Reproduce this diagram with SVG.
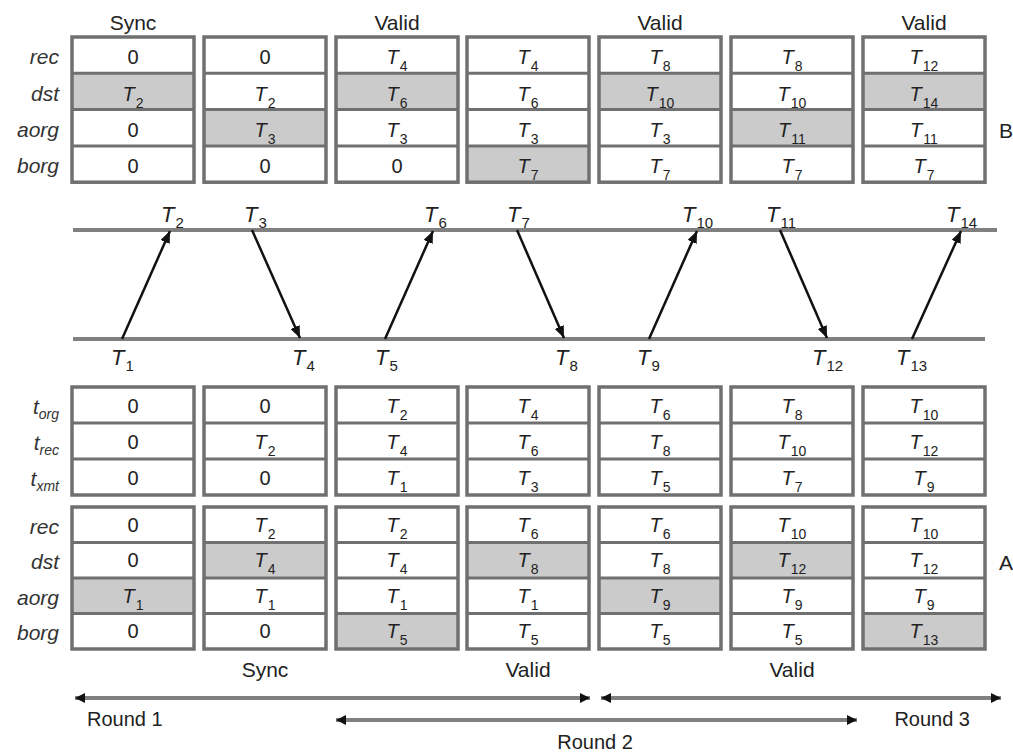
<svg xmlns="http://www.w3.org/2000/svg" xmlns:xlink="http://www.w3.org/1999/xlink" width="1013" height="752" viewBox="0 0 1013 752">
  <style>
    text { font-family: "Liberation Sans", Arial, sans-serif; fill: #222; }
    .hd { font-size: 21px; text-anchor: middle; }
    .lb { font-size: 21px; font-style: italic; text-anchor: end; fill: #333; }
    .v { font-size: 20px; text-anchor: middle; }
    .it { font-style: italic; }
    .sb { font-size: 14px; font-style: normal; }
    .tl { font-size: 22px; font-style: italic; }
    .tls { font-size: 15px; font-style: normal; }
    .rd { font-size: 20px; }
    .sh { fill: #cbcbcb; }
    .frame { fill: none; stroke: #707070; stroke-width: 3.5; }
    .dv { stroke: #707070; stroke-width: 3; }
    .axis { stroke: #808080; stroke-width: 4; fill: none; }
    .msg { stroke: #111; stroke-width: 2.5; fill: none; marker-end: url(#ah); }
    .span { stroke: #808080; stroke-width: 4; fill: none; marker-start: url(#sh2); marker-end: url(#sh2); }
  </style>
  <defs>
    <marker id="ah" viewBox="0 0 12 10" refX="12" refY="5" markerWidth="12" markerHeight="10" markerUnits="userSpaceOnUse" orient="auto">
      <path d="M0,0 L12,5 L0,10 z" fill="#111"/>
    </marker>
    <marker id="sh2" viewBox="0 0 10 10" refX="10" refY="5" markerWidth="10" markerHeight="10" markerUnits="userSpaceOnUse" orient="auto-start-reverse">
      <path d="M0,0 L10,5 L0,10 z" fill="#111"/>
    </marker>
    <!-- four-row register box (node B) -->
    <g id="frameB">
      <line class="dv" x1="0" y1="36.3" x2="122" y2="36.3"/>
      <line class="dv" x1="0" y1="72.6" x2="122" y2="72.6"/>
      <line class="dv" x1="0" y1="108.9" x2="122" y2="108.9"/>
      <rect class="frame" x="0" y="0" width="122" height="145.2"/>
    </g>
    <!-- three-row packet header box -->
    <g id="frameP">
      <line class="dv" x1="0" y1="36" x2="122" y2="36"/>
      <line class="dv" x1="0" y1="72" x2="122" y2="72"/>
      <rect class="frame" x="0" y="0" width="122" height="108"/>
    </g>
    <!-- four-row register box (node A) -->
    <g id="frameA">
      <line class="dv" x1="0" y1="35.5" x2="122" y2="35.5"/>
      <line class="dv" x1="0" y1="71" x2="122" y2="71"/>
      <line class="dv" x1="0" y1="106.5" x2="122" y2="106.5"/>
      <rect class="frame" x="0" y="0" width="122" height="142"/>
    </g>
  </defs>

  <rect width="1013" height="752" fill="#fff"/>

  <!-- state labels above node B -->
  <text class="hd" x="133" y="30">Sync</text>
  <text class="hd" x="397" y="30">Valid</text>
  <text class="hd" x="660" y="30">Valid</text>
  <text class="hd" x="924" y="30">Valid</text>

  <!-- row labels, node B -->
  <g id="labelsB">
    <text class="lb" x="59" y="64">rec</text>
    <text class="lb" x="59" y="101">dst</text>
    <text class="lb" x="59" y="137">aorg</text>
    <text class="lb" x="59" y="173">borg</text>
  </g>
  <text x="999" y="138" style="font-size:21px">B</text>

  <!-- node B register states -->
  <g id="b1" transform="translate(72,37)">
    <rect class="sh" x="0" y="36.3" width="122" height="36.3"/>
    <use xlink:href="#frameB"/>
    <text class="v" x="61" y="27">0</text>
    <text class="v" x="61" y="64"><tspan class="it">T</tspan><tspan class="sb" dx="1" dy="7">2</tspan></text>
    <text class="v" x="61" y="100">0</text>
    <text class="v" x="61" y="136">0</text>
  </g>
  <g id="b2" transform="translate(204,37)">
    <rect class="sh" x="0" y="72.6" width="122" height="36.3"/>
    <use xlink:href="#frameB"/>
    <text class="v" x="61" y="27">0</text>
    <text class="v" x="61" y="64"><tspan class="it">T</tspan><tspan class="sb" dx="1" dy="7">2</tspan></text>
    <text class="v" x="61" y="100"><tspan class="it">T</tspan><tspan class="sb" dx="1" dy="7">3</tspan></text>
    <text class="v" x="61" y="136">0</text>
  </g>
  <g id="b3" transform="translate(336,37)">
    <rect class="sh" x="0" y="36.3" width="122" height="36.3"/>
    <use xlink:href="#frameB"/>
    <text class="v" x="61" y="27"><tspan class="it">T</tspan><tspan class="sb" dx="1" dy="7">4</tspan></text>
    <text class="v" x="61" y="64"><tspan class="it">T</tspan><tspan class="sb" dx="1" dy="7">6</tspan></text>
    <text class="v" x="61" y="100"><tspan class="it">T</tspan><tspan class="sb" dx="1" dy="7">3</tspan></text>
    <text class="v" x="61" y="136">0</text>
  </g>
  <g id="b4" transform="translate(467,37)">
    <rect class="sh" x="0" y="108.9" width="122" height="36.3"/>
    <use xlink:href="#frameB"/>
    <text class="v" x="61" y="27"><tspan class="it">T</tspan><tspan class="sb" dx="1" dy="7">4</tspan></text>
    <text class="v" x="61" y="64"><tspan class="it">T</tspan><tspan class="sb" dx="1" dy="7">6</tspan></text>
    <text class="v" x="61" y="100"><tspan class="it">T</tspan><tspan class="sb" dx="1" dy="7">3</tspan></text>
    <text class="v" x="61" y="136"><tspan class="it">T</tspan><tspan class="sb" dx="1" dy="7">7</tspan></text>
  </g>
  <g id="b5" transform="translate(599,37)">
    <rect class="sh" x="0" y="36.3" width="122" height="36.3"/>
    <use xlink:href="#frameB"/>
    <text class="v" x="61" y="27"><tspan class="it">T</tspan><tspan class="sb" dx="1" dy="7">8</tspan></text>
    <text class="v" x="61" y="64"><tspan class="it">T</tspan><tspan class="sb" dx="1" dy="7">10</tspan></text>
    <text class="v" x="61" y="100"><tspan class="it">T</tspan><tspan class="sb" dx="1" dy="7">3</tspan></text>
    <text class="v" x="61" y="136"><tspan class="it">T</tspan><tspan class="sb" dx="1" dy="7">7</tspan></text>
  </g>
  <g id="b6" transform="translate(731,37)">
    <rect class="sh" x="0" y="72.6" width="122" height="36.3"/>
    <use xlink:href="#frameB"/>
    <text class="v" x="61" y="27"><tspan class="it">T</tspan><tspan class="sb" dx="1" dy="7">8</tspan></text>
    <text class="v" x="61" y="64"><tspan class="it">T</tspan><tspan class="sb" dx="1" dy="7">10</tspan></text>
    <text class="v" x="61" y="100"><tspan class="it">T</tspan><tspan class="sb" dx="1" dy="7">11</tspan></text>
    <text class="v" x="61" y="136"><tspan class="it">T</tspan><tspan class="sb" dx="1" dy="7">7</tspan></text>
  </g>
  <g id="b7" transform="translate(863,37)">
    <rect class="sh" x="0" y="36.3" width="122" height="36.3"/>
    <use xlink:href="#frameB"/>
    <text class="v" x="61" y="27"><tspan class="it">T</tspan><tspan class="sb" dx="1" dy="7">12</tspan></text>
    <text class="v" x="61" y="64"><tspan class="it">T</tspan><tspan class="sb" dx="1" dy="7">14</tspan></text>
    <text class="v" x="61" y="100"><tspan class="it">T</tspan><tspan class="sb" dx="1" dy="7">11</tspan></text>
    <text class="v" x="61" y="136"><tspan class="it">T</tspan><tspan class="sb" dx="1" dy="7">7</tspan></text>
  </g>

  <!-- time axes of B (top) and A (bottom) -->
  <g id="axes">
    <line class="axis" x1="73" y1="230" x2="997" y2="230"/>
    <line class="axis" x1="73" y1="339" x2="985" y2="339"/>
  </g>

  <!-- packet exchanges -->
  <g id="connectors">
    <line class="msg" x1="122" y1="339" x2="170" y2="231"/>
    <line class="msg" x1="252" y1="230" x2="300" y2="338"/>
    <line class="msg" x1="385" y1="339" x2="433" y2="231"/>
    <line class="msg" x1="517" y1="230" x2="564" y2="338"/>
    <line class="msg" x1="649" y1="339" x2="697" y2="231"/>
    <line class="msg" x1="780" y1="230" x2="827" y2="338"/>
    <line class="msg" x1="912" y1="339" x2="961" y2="231"/>
  </g>

  <!-- timestamps on the axes -->
  <g id="stamps">
    <text class="tl" x="161" y="222">T<tspan class="tls" dx="1" dy="6">2</tspan></text>
    <text class="tl" x="244" y="222">T<tspan class="tls" dx="1" dy="6">3</tspan></text>
    <text class="tl" x="424" y="222">T<tspan class="tls" dx="1" dy="6">6</tspan></text>
    <text class="tl" x="507" y="222">T<tspan class="tls" dx="1" dy="6">7</tspan></text>
    <text class="tl" x="682" y="222">T<tspan class="tls" dx="1" dy="6">10</tspan></text>
    <text class="tl" x="766" y="222">T<tspan class="tls" dx="1" dy="6">11</tspan></text>
    <text class="tl" x="946" y="222">T<tspan class="tls" dx="1" dy="6">14</tspan></text>
    <text class="tl" x="111" y="365">T<tspan class="tls" dx="1" dy="6">1</tspan></text>
    <text class="tl" x="292" y="365">T<tspan class="tls" dx="1" dy="6">4</tspan></text>
    <text class="tl" x="375" y="365">T<tspan class="tls" dx="1" dy="6">5</tspan></text>
    <text class="tl" x="555" y="365">T<tspan class="tls" dx="1" dy="6">8</tspan></text>
    <text class="tl" x="637" y="365">T<tspan class="tls" dx="1" dy="6">9</tspan></text>
    <text class="tl" x="812" y="365">T<tspan class="tls" dx="1" dy="6">12</tspan></text>
    <text class="tl" x="896" y="365">T<tspan class="tls" dx="1" dy="6">13</tspan></text>
  </g>

  <!-- row labels, packet header and node A -->
  <g id="labelsA">
    <text class="lb" x="59" y="414">t<tspan class="sb" style="font-style:italic" dy="5">org</tspan></text>
    <text class="lb" x="59" y="450">t<tspan class="sb" style="font-style:italic" dy="5">rec</tspan></text>
    <text class="lb" x="59" y="486">t<tspan class="sb" style="font-style:italic" dy="5">xmt</tspan></text>
    <text class="lb" x="59" y="534">rec</text>
    <text class="lb" x="59" y="569">dst</text>
    <text class="lb" x="59" y="605">aorg</text>
    <text class="lb" x="59" y="640">borg</text>
  </g>
  <text x="999" y="570" style="font-size:21px">A</text>

  <!-- packet header contents -->
  <g id="p1" transform="translate(72,387)">
    <use xlink:href="#frameP"/>
    <text class="v" x="61" y="26">0</text>
    <text class="v" x="61" y="62">0</text>
    <text class="v" x="61" y="98">0</text>
  </g>
  <g id="p2" transform="translate(204,387)">
    <use xlink:href="#frameP"/>
    <text class="v" x="61" y="26">0</text>
    <text class="v" x="61" y="62"><tspan class="it">T</tspan><tspan class="sb" dx="1" dy="7">2</tspan></text>
    <text class="v" x="61" y="98">0</text>
  </g>
  <g id="p3" transform="translate(336,387)">
    <use xlink:href="#frameP"/>
    <text class="v" x="61" y="26"><tspan class="it">T</tspan><tspan class="sb" dx="1" dy="7">2</tspan></text>
    <text class="v" x="61" y="62"><tspan class="it">T</tspan><tspan class="sb" dx="1" dy="7">4</tspan></text>
    <text class="v" x="61" y="98"><tspan class="it">T</tspan><tspan class="sb" dx="1" dy="7">1</tspan></text>
  </g>
  <g id="p4" transform="translate(467,387)">
    <use xlink:href="#frameP"/>
    <text class="v" x="61" y="26"><tspan class="it">T</tspan><tspan class="sb" dx="1" dy="7">4</tspan></text>
    <text class="v" x="61" y="62"><tspan class="it">T</tspan><tspan class="sb" dx="1" dy="7">6</tspan></text>
    <text class="v" x="61" y="98"><tspan class="it">T</tspan><tspan class="sb" dx="1" dy="7">3</tspan></text>
  </g>
  <g id="p5" transform="translate(599,387)">
    <use xlink:href="#frameP"/>
    <text class="v" x="61" y="26"><tspan class="it">T</tspan><tspan class="sb" dx="1" dy="7">6</tspan></text>
    <text class="v" x="61" y="62"><tspan class="it">T</tspan><tspan class="sb" dx="1" dy="7">8</tspan></text>
    <text class="v" x="61" y="98"><tspan class="it">T</tspan><tspan class="sb" dx="1" dy="7">5</tspan></text>
  </g>
  <g id="p6" transform="translate(731,387)">
    <use xlink:href="#frameP"/>
    <text class="v" x="61" y="26"><tspan class="it">T</tspan><tspan class="sb" dx="1" dy="7">8</tspan></text>
    <text class="v" x="61" y="62"><tspan class="it">T</tspan><tspan class="sb" dx="1" dy="7">10</tspan></text>
    <text class="v" x="61" y="98"><tspan class="it">T</tspan><tspan class="sb" dx="1" dy="7">7</tspan></text>
  </g>
  <g id="p7" transform="translate(863,387)">
    <use xlink:href="#frameP"/>
    <text class="v" x="61" y="26"><tspan class="it">T</tspan><tspan class="sb" dx="1" dy="7">10</tspan></text>
    <text class="v" x="61" y="62"><tspan class="it">T</tspan><tspan class="sb" dx="1" dy="7">12</tspan></text>
    <text class="v" x="61" y="98"><tspan class="it">T</tspan><tspan class="sb" dx="1" dy="7">9</tspan></text>
  </g>

  <!-- node A register states -->
  <g id="a1" transform="translate(72,507)">
    <rect class="sh" x="0" y="71" width="122" height="35.5"/>
    <use xlink:href="#frameA"/>
    <text class="v" x="61" y="25">0</text>
    <text class="v" x="61" y="60">0</text>
    <text class="v" x="61" y="96"><tspan class="it">T</tspan><tspan class="sb" dx="1" dy="7">1</tspan></text>
    <text class="v" x="61" y="131">0</text>
  </g>
  <g id="a2" transform="translate(204,507)">
    <rect class="sh" x="0" y="35.5" width="122" height="35.5"/>
    <use xlink:href="#frameA"/>
    <text class="v" x="61" y="25"><tspan class="it">T</tspan><tspan class="sb" dx="1" dy="7">2</tspan></text>
    <text class="v" x="61" y="60"><tspan class="it">T</tspan><tspan class="sb" dx="1" dy="7">4</tspan></text>
    <text class="v" x="61" y="96"><tspan class="it">T</tspan><tspan class="sb" dx="1" dy="7">1</tspan></text>
    <text class="v" x="61" y="131">0</text>
  </g>
  <g id="a3" transform="translate(336,507)">
    <rect class="sh" x="0" y="106.5" width="122" height="35.5"/>
    <use xlink:href="#frameA"/>
    <text class="v" x="61" y="25"><tspan class="it">T</tspan><tspan class="sb" dx="1" dy="7">2</tspan></text>
    <text class="v" x="61" y="60"><tspan class="it">T</tspan><tspan class="sb" dx="1" dy="7">4</tspan></text>
    <text class="v" x="61" y="96"><tspan class="it">T</tspan><tspan class="sb" dx="1" dy="7">1</tspan></text>
    <text class="v" x="61" y="131"><tspan class="it">T</tspan><tspan class="sb" dx="1" dy="7">5</tspan></text>
  </g>
  <g id="a4" transform="translate(467,507)">
    <rect class="sh" x="0" y="35.5" width="122" height="35.5"/>
    <use xlink:href="#frameA"/>
    <text class="v" x="61" y="25"><tspan class="it">T</tspan><tspan class="sb" dx="1" dy="7">6</tspan></text>
    <text class="v" x="61" y="60"><tspan class="it">T</tspan><tspan class="sb" dx="1" dy="7">8</tspan></text>
    <text class="v" x="61" y="96"><tspan class="it">T</tspan><tspan class="sb" dx="1" dy="7">1</tspan></text>
    <text class="v" x="61" y="131"><tspan class="it">T</tspan><tspan class="sb" dx="1" dy="7">5</tspan></text>
  </g>
  <g id="a5" transform="translate(599,507)">
    <rect class="sh" x="0" y="71" width="122" height="35.5"/>
    <use xlink:href="#frameA"/>
    <text class="v" x="61" y="25"><tspan class="it">T</tspan><tspan class="sb" dx="1" dy="7">6</tspan></text>
    <text class="v" x="61" y="60"><tspan class="it">T</tspan><tspan class="sb" dx="1" dy="7">8</tspan></text>
    <text class="v" x="61" y="96"><tspan class="it">T</tspan><tspan class="sb" dx="1" dy="7">9</tspan></text>
    <text class="v" x="61" y="131"><tspan class="it">T</tspan><tspan class="sb" dx="1" dy="7">5</tspan></text>
  </g>
  <g id="a6" transform="translate(731,507)">
    <rect class="sh" x="0" y="35.5" width="122" height="35.5"/>
    <use xlink:href="#frameA"/>
    <text class="v" x="61" y="25"><tspan class="it">T</tspan><tspan class="sb" dx="1" dy="7">10</tspan></text>
    <text class="v" x="61" y="60"><tspan class="it">T</tspan><tspan class="sb" dx="1" dy="7">12</tspan></text>
    <text class="v" x="61" y="96"><tspan class="it">T</tspan><tspan class="sb" dx="1" dy="7">9</tspan></text>
    <text class="v" x="61" y="131"><tspan class="it">T</tspan><tspan class="sb" dx="1" dy="7">5</tspan></text>
  </g>
  <g id="a7" transform="translate(863,507)">
    <rect class="sh" x="0" y="106.5" width="122" height="35.5"/>
    <use xlink:href="#frameA"/>
    <text class="v" x="61" y="25"><tspan class="it">T</tspan><tspan class="sb" dx="1" dy="7">10</tspan></text>
    <text class="v" x="61" y="60"><tspan class="it">T</tspan><tspan class="sb" dx="1" dy="7">12</tspan></text>
    <text class="v" x="61" y="96"><tspan class="it">T</tspan><tspan class="sb" dx="1" dy="7">9</tspan></text>
    <text class="v" x="61" y="131"><tspan class="it">T</tspan><tspan class="sb" dx="1" dy="7">13</tspan></text>
  </g>

  <!-- state labels below node A -->
  <text class="hd" x="265" y="677">Sync</text>
  <text class="hd" x="528" y="677">Valid</text>
  <text class="hd" x="792" y="677">Valid</text>

  <!-- round spans -->
  <g id="rounds">
    <line class="span" x1="75" y1="698" x2="590" y2="698"/>
    <line class="span" x1="601" y1="698" x2="1001" y2="698"/>
    <line class="span" x1="336" y1="720" x2="857" y2="720"/>
    <text class="rd" x="87" y="726">Round 1</text>
    <text class="rd" x="595" y="749" text-anchor="middle">Round 2</text>
    <text class="rd" x="970" y="726" text-anchor="end">Round 3</text>
  </g>
</svg>
